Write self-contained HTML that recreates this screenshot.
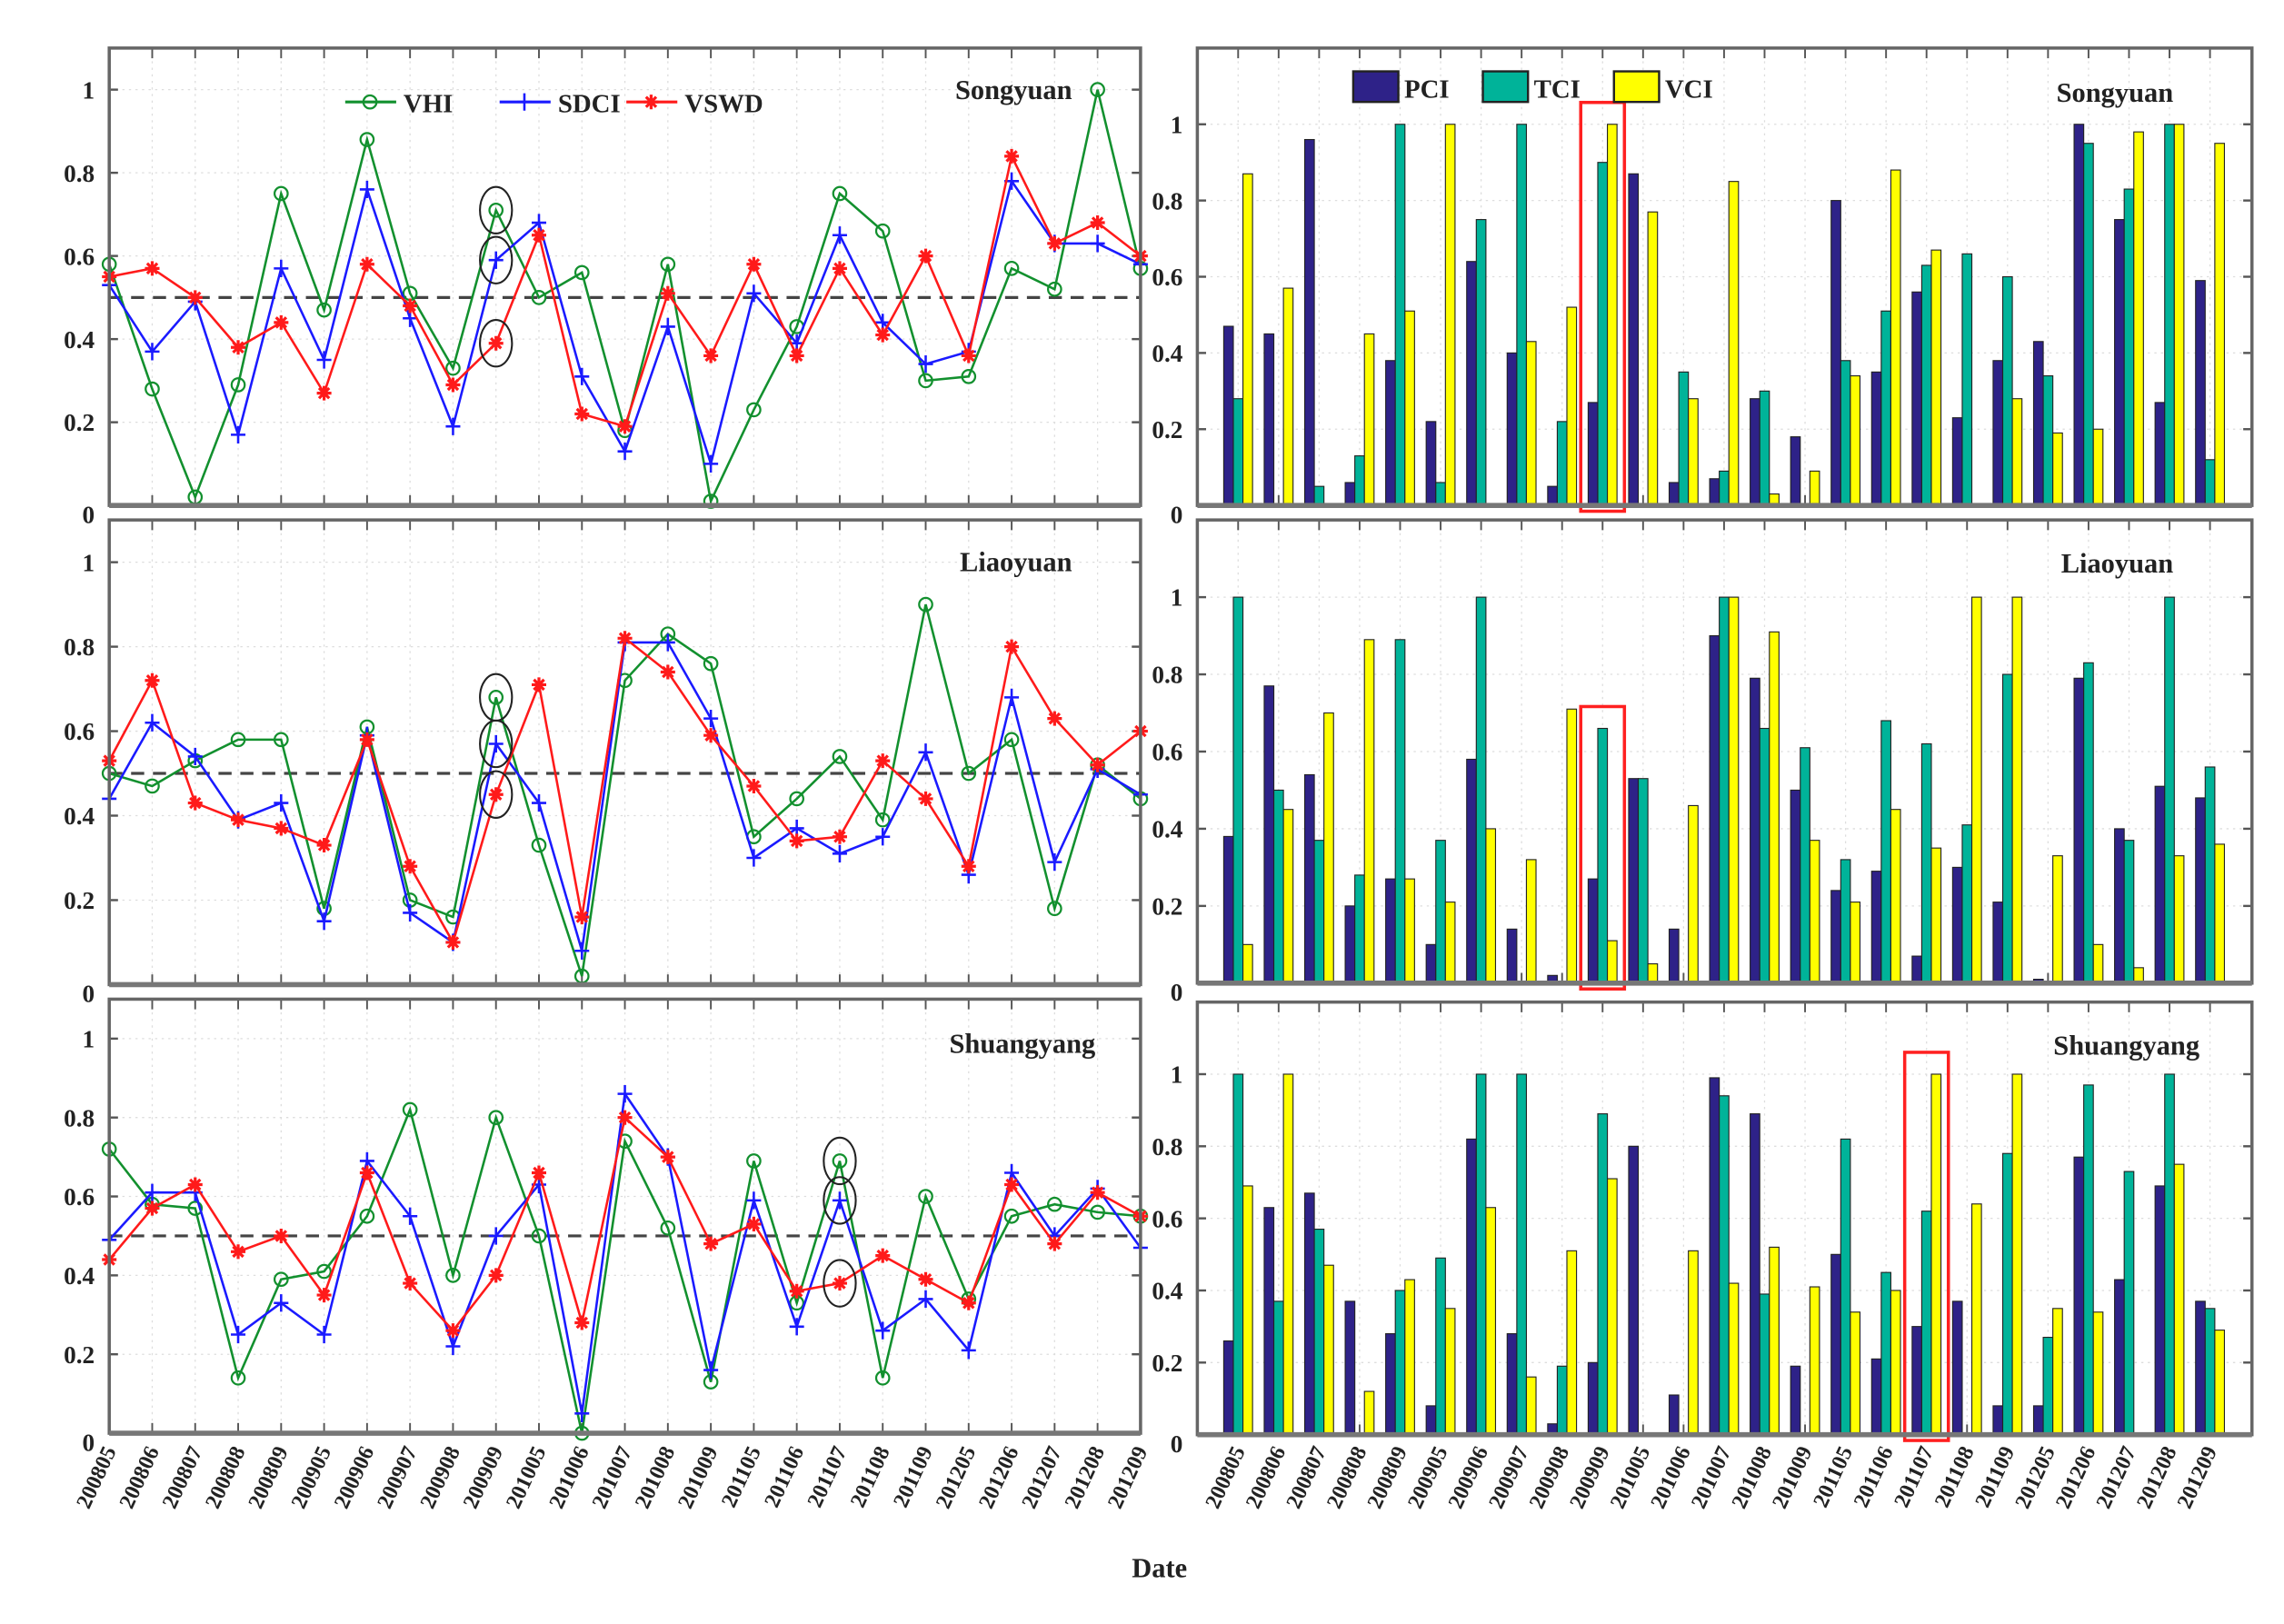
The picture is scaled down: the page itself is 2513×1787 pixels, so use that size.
<!DOCTYPE html>
<html><head><meta charset="utf-8"><style>
html,body{margin:0;padding:0;background:#fff;}
svg{display:block;}
text{font-family:"Liberation Serif",serif;font-weight:bold;fill:#222;}
</style></head><body>
<svg id="chart" width="2513" height="1787" viewBox="0 0 1568 1115" preserveAspectRatio="none" xmlns="http://www.w3.org/2000/svg"></svg>
<script>
const dates = ["200805","200806","200807","200808","200809","200905","200906","200907","200908","200909","201005","201006","201007","201008","201009","201105","201106","201107","201108","201109","201205","201206","201207","201208","201209"];
const stations = ["Songyuan","Liaoyuan","Shuangyang"];
const yTicks = [0,0.2,0.4,0.6,0.8,1];
const yTickLabels = ["0","0.2","0.4","0.6","0.8","1"];
// line series
const vhiSongyuan = [0.58,0.28,0.02,0.29,0.75,0.47,0.88,0.51,0.33,0.71,0.50,0.56,0.18,0.58,0.01,0.23,0.43,0.75,0.66,0.30,0.31,0.57,0.52,1.0,0.57];
const sdciSongyuan = [0.53,0.37,0.49,0.17,0.57,0.35,0.76,0.45,0.19,0.59,0.68,0.31,0.13,0.43,0.10,0.51,0.39,0.65,0.44,0.34,0.37,0.78,0.63,0.63,0.58];
const vswdSongyuan = [0.55,0.57,0.50,0.38,0.44,0.27,0.58,0.48,0.29,0.39,0.65,0.22,0.19,0.51,0.36,0.58,0.36,0.57,0.41,0.60,0.36,0.84,0.63,0.68,0.60];
const vhiLiaoyuan = [0.50,0.47,0.53,0.58,0.58,0.18,0.61,0.20,0.16,0.68,0.33,0.02,0.72,0.83,0.76,0.35,0.44,0.54,0.39,0.90,0.50,0.58,0.18,0.52,0.44];
const sdciLiaoyuan = [0.44,0.62,0.54,0.39,0.43,0.15,0.59,0.17,0.10,0.57,0.43,0.08,0.81,0.81,0.63,0.30,0.37,0.31,0.35,0.55,0.26,0.68,0.29,0.51,0.45];
const vswdLiaoyuan = [0.53,0.72,0.43,0.39,0.37,0.33,0.58,0.28,0.10,0.45,0.71,0.16,0.82,0.74,0.59,0.47,0.34,0.35,0.53,0.44,0.28,0.80,0.63,0.52,0.60];
const vhiShuangyang = [0.72,0.58,0.57,0.14,0.39,0.41,0.55,0.82,0.40,0.80,0.50,0.00,0.74,0.52,0.13,0.69,0.33,0.69,0.14,0.60,0.34,0.55,0.58,0.56,0.55];
const sdciShuangyang = [0.49,0.61,0.61,0.25,0.33,0.25,0.69,0.55,0.22,0.50,0.63,0.05,0.86,0.70,0.16,0.59,0.27,0.59,0.26,0.34,0.21,0.66,0.50,0.62,0.47];
const vswdShuangyang = [0.44,0.57,0.63,0.46,0.50,0.35,0.66,0.38,0.26,0.40,0.66,0.28,0.80,0.70,0.48,0.53,0.36,0.38,0.45,0.39,0.33,0.63,0.48,0.61,0.55];
// bar series
const pciSongyuan = [0.47,0.45,0.96,0.06,0.38,0.22,0.64,0.40,0.05,0.27,0.87,0.06,0.07,0.28,0.18,0.80,0.35,0.56,0.23,0.38,0.43,1.0,0.75,0.27,0.59];
const tciSongyuan = [0.28,0,0.05,0.13,1.0,0.06,0.75,1.0,0.22,0.90,0,0.35,0.09,0.30,0,0.38,0.51,0.63,0.66,0.60,0.34,0.95,0.83,1.0,0.12];
const vciSongyuan = [0.87,0.57,0,0.45,0.51,1.0,0,0.43,0.52,1.0,0.77,0.28,0.85,0.03,0.09,0.34,0.88,0.67,0,0.28,0.19,0.20,0.98,1.0,0.95];
const pciLiaoyuan = [0.38,0.77,0.54,0.20,0.27,0.10,0.58,0.14,0.02,0.27,0.53,0.14,0.90,0.79,0.50,0.24,0.29,0.07,0.30,0.21,0.01,0.79,0.40,0.51,0.48];
const tciLiaoyuan = [1.0,0.50,0.37,0.28,0.89,0.37,1.0,0,0,0.66,0.53,0,1.0,0.66,0.61,0.32,0.68,0.62,0.41,0.80,0,0.83,0.37,1.0,0.56];
const vciLiaoyuan = [0.10,0.45,0.70,0.89,0.27,0.21,0.40,0.32,0.71,0.11,0.05,0.46,1.0,0.91,0.37,0.21,0.45,0.35,1.0,1.0,0.33,0.10,0.04,0.33,0.36];
const pciShuangyang = [0.26,0.63,0.67,0.37,0.28,0.08,0.82,0.28,0.03,0.20,0.80,0.11,0.99,0.89,0.19,0.50,0.21,0.30,0.37,0.08,0.08,0.77,0.43,0.69,0.37];
const tciShuangyang = [1.0,0.37,0.57,0,0.40,0.49,1.0,1.0,0.19,0.89,0,0,0.94,0.39,0,0.82,0.45,0.62,0,0.78,0.27,0.97,0.73,1.0,0.35];
const vciShuangyang = [0.69,1.0,0.47,0.12,0.43,0.35,0.63,0.16,0.51,0.71,0,0.51,0.42,0.52,0.41,0.34,0.40,1.0,0.64,1.0,0.35,0.34,0,0.75,0.29];
const threshold = 0.5;
const circledIdx = [9,9,17];
const boxedIdx = [9,9,17];

const NS="http://www.w3.org/2000/svg";
const svg=document.getElementById('chart');
function el(tag,attrs,parent){const e=document.createElementNS(NS,tag);for(const k in attrs)e.setAttribute(k,attrs[k]);(parent||svg).appendChild(e);return e;}

const lineData=[[vhiSongyuan,sdciSongyuan,vswdSongyuan],[vhiLiaoyuan,sdciLiaoyuan,vswdLiaoyuan],[vhiShuangyang,sdciShuangyang,vswdShuangyang]];
const barData=[[pciSongyuan,tciSongyuan,vciSongyuan],[pciLiaoyuan,tciLiaoyuan,vciLiaoyuan],[pciShuangyang,tciShuangyang,vciShuangyang]];
const L={x0:75,x1:783};
const R={x0:822,x1:1546,t0:850,dt:27.8};
const lp=[{top:33,bottom:347,ymax:1.1},{top:357,bottom:676,ymax:1.1},{top:686,bottom:984,ymax:1.1}];
const rp=[{top:33,bottom:347,ymax:1.2},{top:357,bottom:675,ymax:1.2},{top:688,bottom:985,ymax:1.2}];
const lineColors=["#12902e","#1a1aff","#ff1a1a"];
const barColors=["#2e2288","#00b399","#ffff00"];
const lx=i=>L.x0+i*(L.x1-L.x0)/(dates.length-1);
const rx=i=>R.t0+i*R.dt;

function frame(g,x0,x1,p,xs,name){
  const ys=v=>p.bottom-v/p.ymax*(p.bottom-p.top);
  el('rect',{x:x0,y:p.top,width:x1-x0,height:p.bottom-p.top,fill:'#fff'},g);
  dates.forEach((d,i)=>{const x=xs(i);
    el('line',{x1:x,x2:x,y1:p.top,y2:p.bottom,stroke:'#ddd','stroke-width':0.8,'stroke-dasharray':'1.5,3'},g);
    el('line',{x1:x,x2:x,y1:p.top,y2:p.top+7,stroke:'#555','stroke-width':1.2},g);
    el('line',{x1:x,x2:x,y1:p.bottom,y2:p.bottom-7,stroke:'#555','stroke-width':1.2},g);});
  yTicks.forEach((v,k)=>{const y=ys(v);
    el('line',{x1:x0,x2:x1,y1:y,y2:y,stroke:'#ddd','stroke-width':0.8,'stroke-dasharray':'1.5,3'},g);
    el('line',{x1:x0,x2:x0+6,y1:y,y2:y,stroke:'#555','stroke-width':1.5},g);
    el('line',{x1:x1,x2:x1-6,y1:y,y2:y,stroke:'#555','stroke-width':1.5},g);
    const t=el('text',{x:x0-10,y:y+(v===0?12:6),'text-anchor':'end','font-size':17},g);
    
    
    t.textContent=yTickLabels[k];});
  return ys;
}
function border(g,x0,x1,p){
  el('rect',{x:x0,y:p.top,width:x1-x0,height:p.bottom-p.top,fill:'none',stroke:'#666','stroke-width':2.2},g);
  el('line',{x1:x0,x2:x1,y1:p.bottom,y2:p.bottom,stroke:'#777','stroke-width':3.5},g);
}
function marker(g,k,x,y){
  const c=lineColors[k];
  if(k===0) el('circle',{cx:x,cy:y,r:4.5,fill:'none',stroke:c,'stroke-width':1.4},g);
  else if(k===1){el('path',{d:`M${x-5},${y}H${x+5}M${x},${y-6}V${y+6}`,stroke:c,'stroke-width':1.6},g);}
  else {el('path',{d:`M${x-5},${y}H${x+5}M${x},${y-5}V${y+5}M${x-3.5},${y-3.5}L${x+3.5},${y+3.5}M${x-3.5},${y+3.5}L${x+3.5},${y-3.5}`,stroke:c,'stroke-width':2},g);}
}

// left line panels
lp.forEach((p,s)=>{
  const g=el('g',{});
  
  
  const ys=frame(g,L.x0,L.x1,p,lx,stations[s].toLowerCase()+'-line');
  const th=el('line',{x1:L.x0,x2:L.x1,y1:ys(threshold),y2:ys(threshold),stroke:'#444','stroke-width':2,'stroke-dasharray':'9,6'},g);
  
  
  lineData[s].forEach((arr,k)=>{
    const pl=el('polyline',{points:arr.map((v,i)=>lx(i)+','+ys(v)).join(' '),fill:'none',stroke:lineColors[k],'stroke-width':1.6},g);
    
    
    arr.forEach((v,i)=>marker(g,k,lx(i),ys(v)));
  });
  const ci=circledIdx[s];
  lineData[s].forEach(arr=>{
    const c=el('ellipse',{cx:lx(ci),cy:ys(arr[ci]),rx:11,ry:16,fill:'none',stroke:'#222','stroke-width':1.3},g);
    
    
  });
  border(g,L.x0,L.x1,p);
  const t=el('text',{x:s===2?752:736,y:p.top+(s===2?37:35),'text-anchor':'end','font-size':19},g);
  
  
  t.textContent=stations[s];
});

// right bar panels
rp.forEach((p,s)=>{
  const g=el('g',{});
  
  
  const ys=frame(g,R.x0,R.x1,p,rx,stations[s].toLowerCase()+'-bar');
  const bw=6.6;
  barData[s].forEach((arr,k)=>{
    arr.forEach((v,i)=>{
      if(v<=0) return;
      const x=rx(i)+(k-1)*bw-bw/2;
      const b=el('rect',{x:x,y:ys(v),width:bw,height:p.bottom-ys(v),fill:barColors[k],stroke:'#222','stroke-width':0.7},g);
      
      
    });
  });
  const bi=boxedIdx[s];
  const topV=Math.max(barData[s][0][bi],barData[s][1][bi],barData[s][2][bi]);
  const hb=el('rect',{x:rx(bi)-15,y:ys(topV)-15,width:30,height:p.bottom-ys(topV)+19,fill:'none',stroke:'#ff2020','stroke-width':2.2},g);
  
  
  border(g,R.x0,R.x1,p);
  const t=el('text',{x:s===2?1510:1492,y:p.top+(s===0?37:36),'text-anchor':'end','font-size':19},g);
  
  
  t.textContent=stations[s];
});

// legends
const lg=el('g',{});


[["VHI",237],["SDCI",343],["VSWD",430]].forEach(([n,x],k)=>{
  el('line',{x1:x,x2:x+35,y1:70,y2:70,stroke:lineColors[k],'stroke-width':2},lg);
  marker(lg,k,x+17,70);
  const t=el('text',{x:x+40,y:77,'font-size':18},lg);
  
  
  t.textContent=n;
});
const bg=el('g',{});


[["PCI",929],["TCI",1018],["VCI",1108]].forEach(([n,x],k)=>{
  el('rect',{x:x,y:49,width:31,height:21,fill:barColors[k],stroke:'#222','stroke-width':1.5},bg);
  const t=el('text',{x:x+35,y:67,'font-size':18},bg);
  
  
  t.textContent=n;
});

// x tick labels
dates.forEach((d,i)=>{
  [[lx(i),'left'],[rx(i),'right']].forEach(([x,side])=>{
    const t=el('text',{x:0,y:0,'text-anchor':'end','font-size':15,transform:`translate(${x+5},${996}) rotate(-65)`});
    
    
    t.textContent=d;
  });
});
const xt=el('text',{x:796,y:1083,'text-anchor':'middle','font-size':19});


xt.textContent='Date';
</script>
</body></html>
